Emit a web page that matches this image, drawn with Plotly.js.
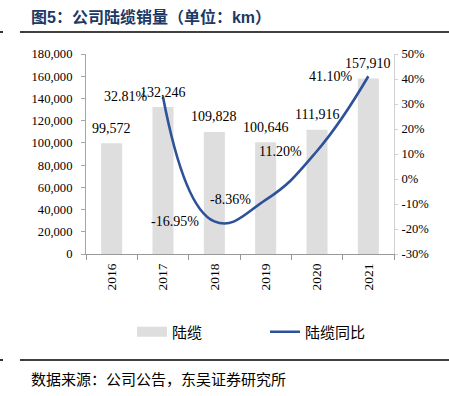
<!DOCTYPE html>
<html>
<head>
<meta charset="utf-8">
<script src="https://cdn.plot.ly/plotly-3.0.1.min.js"></script>
<style>html,body{margin:0;padding:0;background:#fff;}#chart{width:449px;height:396px;}</style>
</head>
<body>
<div id="chart"></div>
<script>
// ---- data ----
const years = ['2016', '2017', '2018', '2019', '2020', '2021'];
const cableSales = [99572, 132246, 109828, 100646, 111916, 157910];
const growthYears = ['2017', '2018', '2019', '2020', '2021'];
const growthPct = [32.81, -16.95, -8.36, 11.20, 41.10];
const leftTickVals = [0, 20000, 40000, 60000, 80000, 100000, 120000, 140000, 160000, 180000];
const leftTickText = ['0', '20,000', '40,000', '60,000', '80,000', '100,000', '120,000', '140,000', '160,000', '180,000'];
const rightTickVals = [-30, -20, -10, 0, 10, 20, 30, 40, 50];
const rightTickText = ['-30%', '-20%', '-10%', '0%', '10%', '20%', '30%', '40%', '50%'];
const seriesNames = ['陆缆', '陆缆同比'];
const titleText = '图5：公司陆缆销量（单位：km）';
const sourceText = '数据来源：公司公告，东吴证券研究所';

// ---- layout geometry ----
const L = 86, R = 55, T = 54, B = 142, W = 449 - L - R, H = 396 - T - B;
const px = p => (p - L) / W;
const py = p => (396 - B - p) / H;

const serif = 'Liberation Serif, Times New Roman, serif';
const cjk = 'Noto Sans CJK SC, sans-serif';
const barColor = '#DEDEDE';
const lineColor = '#2E5299';

const traces = [
  {
    type: 'bar', x: years, y: cableSales, name: seriesNames[0],
    marker: {color: barColor}, showlegend: false, hoverinfo: 'skip'
  },
  {
    // legend swatch for the bar series (wide grey band like the reference)
    type: 'scatter', mode: 'lines', x: years, y: years.map(() => null), name: seriesNames[0],
    line: {color: barColor, width: 10}, showlegend: true, hoverinfo: 'skip'
  },
  {
    type: 'scatter', mode: 'lines', x: growthYears, y: growthPct, yaxis: 'y2',
    name: seriesNames[1], line: {color: lineColor, width: 2.6, shape: 'spline', smoothing: 1.3},
    showlegend: true, hoverinfo: 'skip'
  }
];

const annotations = [];
years.forEach((yr, i) => {
  annotations.push({
    x: years.indexOf(yr), y: cableSales[i], xref: 'x', yref: 'y',
    text: cableSales[i].toLocaleString('en-US'),
    showarrow: false, xanchor: 'center', yanchor: 'middle', yshift: 15,
    font: {family: serif, size: 14, color: '#000'}
  });
});
growthYears.forEach((yr, i) => {
  annotations.push({
    x: years.indexOf(yr), y: growthPct[i], xref: 'x', yref: 'y2',
    text: growthPct[i].toFixed(2) + '%',
    showarrow: false, xanchor: 'right', yanchor: 'middle', xshift: -13,
    font: {family: serif, size: 14, color: '#000'}
  });
});
annotations.push({
  xref: 'paper', yref: 'paper', x: px(29), y: py(17), xanchor: 'left', yanchor: 'middle',
  text: '<b>' + titleText + '</b>', showarrow: false,
  font: {family: 'Liberation Sans, ' + cjk, size: 16, color: '#203864'}
});
annotations.push({
  xref: 'paper', yref: 'paper', x: px(29), y: py(378), xanchor: 'left', yanchor: 'middle',
  text: sourceText, showarrow: false,
  font: {family: cjk, size: 15, color: '#000'}
});

const layout = {
  width: 449, height: 396,
  margin: {l: L, r: R, t: T, b: B, pad: 0},
  paper_bgcolor: '#fff', plot_bgcolor: '#fff',
  bargap: 0.59,
  showlegend: true,
  legend: {
    orientation: 'h', x: px(132), y: py(332), xanchor: 'left', yanchor: 'middle',
    font: {family: cjk, size: 15, color: '#000'}, entrywidth: 88, itemwidth: 30,
    bgcolor: 'rgba(0,0,0,0)', traceorder: 'normal'
  },
  xaxis: {
    type: 'category', categoryorder: 'array', categoryarray: years, range: [-0.5, years.length - 0.5],
    showgrid: false, zeroline: false,
    showline: true, linecolor: '#999', linewidth: 1,
    ticks: 'outside', tickson: 'boundaries', ticklen: 5, tickcolor: '#999',
    tickangle: -90, tickfont: {family: serif, size: 13.5, color: '#000'},
    ticklabelstandoff: 3, fixedrange: true
  },
  yaxis: {
    range: [0, 180000], showgrid: false, zeroline: false,
    showline: true, linecolor: '#A6A6A6', linewidth: 1,
    tickvals: leftTickVals, ticktext: leftTickText,
    ticks: 'outside', ticklen: 4, tickcolor: '#A6A6A6',
    tickfont: {family: serif, size: 12.6, color: '#000'}, ticklabelstandoff: 6,
    fixedrange: true
  },
  yaxis2: {
    overlaying: 'y', side: 'right', range: [-30, 50], showgrid: false, zeroline: false,
    showline: true, linecolor: '#D0D0D0', linewidth: 1,
    tickvals: rightTickVals, ticktext: rightTickText,
    ticks: 'outside', ticklen: 3, tickcolor: '#D0D0D0',
    tickfont: {family: serif, size: 12.6, color: '#000'}, ticklabelstandoff: 1,
    fixedrange: true
  },
  shapes: [
    {type: 'line', xref: 'paper', yref: 'paper', x0: px(20), x1: px(449), y0: py(32), y1: py(32), line: {color: '#000', width: 1.6}},
    {type: 'line', xref: 'paper', yref: 'paper', x0: px(20), x1: px(449), y0: py(360), y1: py(360), line: {color: '#000', width: 1.6}},
    {type: 'line', xref: 'paper', yref: 'paper', x0: px(0), x1: px(3), y0: py(32), y1: py(32), line: {color: '#000', width: 1.6}},
    {type: 'line', xref: 'paper', yref: 'paper', x0: px(0), x1: px(3), y0: py(360), y1: py(360), line: {color: '#000', width: 1.6}}
  ],
  annotations: annotations
};

Plotly.newPlot('chart', traces, layout, {displayModeBar: false, staticPlot: true});
</script>
</body>
</html>
